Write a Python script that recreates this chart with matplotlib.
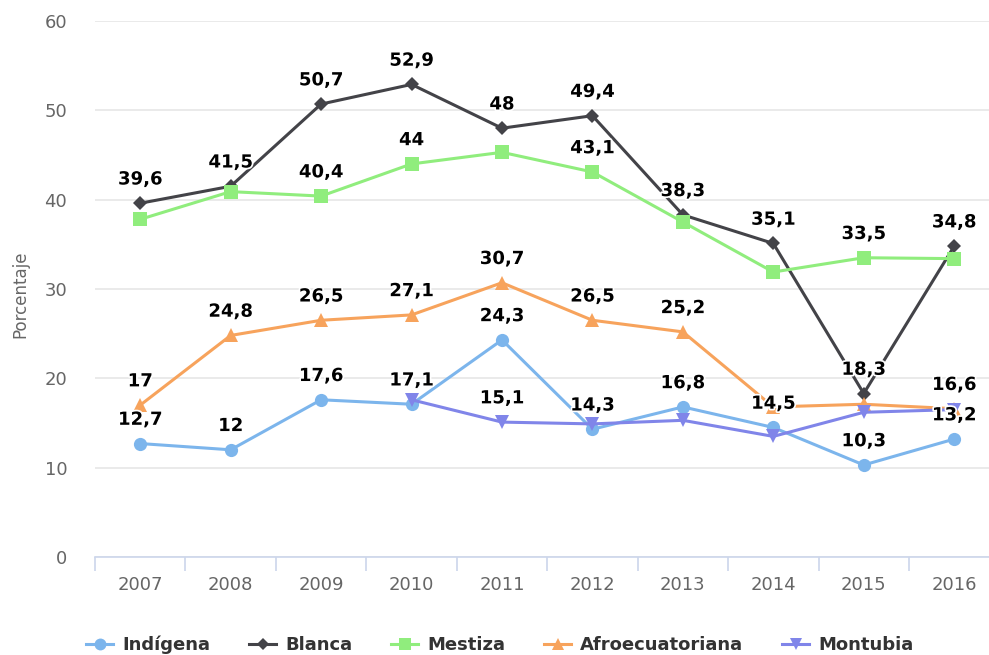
import matplotlib
matplotlib.use("Agg")
import matplotlib.pyplot as plt
import matplotlib.patheffects as pe
from matplotlib.ticker import FixedLocator

years = ["2007", "2008", "2009", "2010", "2011", "2012", "2013", "2014", "2015", "2016"]

indigena = [12.7, 12, 17.6, 17.1, 24.3, 14.3, 16.8, 14.5, 10.3, 13.2]
blanca = [39.6, 41.5, 50.7, 52.9, 48, 49.4, 38.3, 35.1, 18.3, 34.8]
mestiza = [37.8, 40.9, 40.4, 44, 45.3, 43.1, 37.5, 31.9, 33.5, 33.4]
afro = [17, 24.8, 26.5, 27.1, 30.7, 26.5, 25.2, 16.8, 17.1, 16.6]
montubia = [None, None, None, 17.6, 15.1, 14.9, 15.3, 13.5, 16.2, 16.5]

# which data labels are visible (the rest are hidden because they overlap)
labels_indigena = [0, 1, 2, 3, 4, 5, 6, 7, 8, 9]
labels_blanca = [0, 1, 2, 3, 4, 5, 6, 7, 8, 9]
labels_mestiza = [2, 3, 5, 8]
labels_afro = [0, 1, 2, 3, 4, 5, 6, 9]
labels_montubia = [4]

series = [
    ("Indígena", indigena, labels_indigena, "#7cb5ec", "o", 9.5),
    ("Blanca", blanca, labels_blanca, "#434348", "D", 7),
    ("Mestiza", mestiza, labels_mestiza, "#90ed7d", "s", 9.5),
    ("Afroecuatoriana", afro, labels_afro, "#f7a35c", "^", 10),
    ("Montubia", montubia, labels_montubia, "#8085e9", "v", 10),
]

fig = plt.figure(figsize=(9.89, 6.55), dpi=100)
ax = fig.add_axes([95 / 989, 98 / 655, 904.4 / 989, 536 / 655])

x = list(range(len(years)))
for name, vals, shown, color, marker, ms in series:
    xs = [i for i, v in zip(x, vals) if v is not None]
    ys = [v for v in vals if v is not None]
    ax.plot(xs, ys, color=color, lw=2.2, marker=marker, ms=ms,
            markeredgewidth=0, label=name, zorder=3)
    for i in shown:
        txt = ("%g" % vals[i]).replace(".", ",")
        ax.annotate(txt, (i, vals[i]), xytext=(0, 13.5), textcoords="offset points",
                    ha="center", va="baseline", fontsize=13, fontweight="bold",
                    color="black", zorder=5,
                    path_effects=[pe.withStroke(linewidth=2.5, foreground="white")])

ax.set_xlim(-0.5, 9.5)
ax.set_ylim(0, 60)
ax.set_yticks(range(0, 61, 10))
ax.set_xticks(x)
ax.set_xticklabels(years)
ax.xaxis.set_minor_locator(FixedLocator([i + 0.5 for i in range(-1, 10)]))

ax.grid(axis="y", color="#e6e6e6", lw=1.2)
ax.set_axisbelow(True)
for s in ["top", "right", "left"]:
    ax.spines[s].set_visible(False)
ax.spines["bottom"].set_color("#ccd6eb")
ax.spines["bottom"].set_linewidth(1.2)

ax.tick_params(axis="y", length=0, pad=20, labelsize=13, labelcolor="#666666")
ax.tick_params(axis="x", which="major", length=0, pad=14, labelsize=13, labelcolor="#666666")
ax.tick_params(axis="x", which="minor", length=10, width=1.2, color="#ccd6eb")

fig.text(20 / 989, (655 - 294) / 655, "Porcentaje", rotation=90, ha="center", va="center",
         fontsize=12, color="#666666")

leg = fig.legend(loc="center", bbox_to_anchor=(500 / 989, 10 / 655), ncol=5, frameon=False,
                 prop={"weight": "bold", "size": 13}, handlelength=1.5, columnspacing=2.15,
                 handletextpad=0.5, markerscale=0.9)
for t in leg.get_texts():
    t.set_color("#333333")

fig.savefig("out.png", dpi=100)
